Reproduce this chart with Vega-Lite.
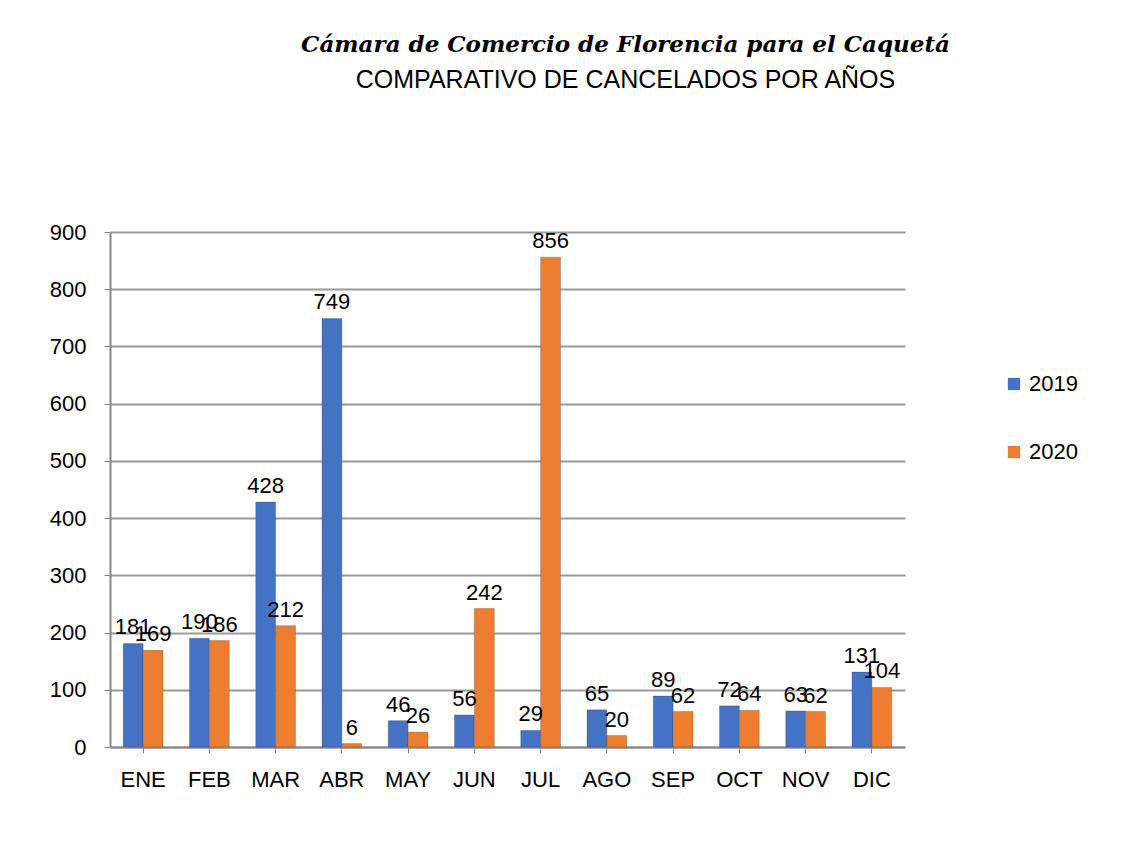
{
  "$schema": "https://vega.github.io/schema/vega-lite/v6.json",
  "autosize": "none",
  "width": 795,
  "height": 515,
  "padding": {"left": 110, "top": 232, "right": 220, "bottom": 94},
  "background": "white",
  "title": {
    "text": "Cámara de Comercio de Florencia para el Caquetá",
    "subtitle": "COMPARATIVO DE CANCELADOS POR AÑOS",
    "anchor": "middle",
    "dx": 118,
    "offset": 128,
    "font": "DejaVu Serif",
    "fontStyle": "italic",
    "fontWeight": "bold",
    "fontSize": 23,
    "color": "black",
    "subtitleFont": "Liberation Sans",
    "subtitleFontSize": 25,
    "subtitleColor": "black",
    "subtitlePadding": 11
  },
  "data": {
    "values": [
      {"mes": "ENE", "anio": "2019", "valor": 181}, {"mes": "ENE", "anio": "2020", "valor": 169},
      {"mes": "FEB", "anio": "2019", "valor": 190}, {"mes": "FEB", "anio": "2020", "valor": 186},
      {"mes": "MAR", "anio": "2019", "valor": 428}, {"mes": "MAR", "anio": "2020", "valor": 212},
      {"mes": "ABR", "anio": "2019", "valor": 749}, {"mes": "ABR", "anio": "2020", "valor": 6},
      {"mes": "MAY", "anio": "2019", "valor": 46}, {"mes": "MAY", "anio": "2020", "valor": 26},
      {"mes": "JUN", "anio": "2019", "valor": 56}, {"mes": "JUN", "anio": "2020", "valor": 242},
      {"mes": "JUL", "anio": "2019", "valor": 29}, {"mes": "JUL", "anio": "2020", "valor": 856},
      {"mes": "AGO", "anio": "2019", "valor": 65}, {"mes": "AGO", "anio": "2020", "valor": 20},
      {"mes": "SEP", "anio": "2019", "valor": 89}, {"mes": "SEP", "anio": "2020", "valor": 62},
      {"mes": "OCT", "anio": "2019", "valor": 72}, {"mes": "OCT", "anio": "2020", "valor": 64},
      {"mes": "NOV", "anio": "2019", "valor": 63}, {"mes": "NOV", "anio": "2020", "valor": 62},
      {"mes": "DIC", "anio": "2019", "valor": 131}, {"mes": "DIC", "anio": "2020", "valor": 104}
    ]
  },
  "encoding": {
    "x": {
      "field": "mes", "type": "nominal", "sort": null,
      "scale": {"paddingInner": 0.4, "paddingOuter": 0.2},
      "axis": {"title": null, "labelAngle": 0, "labelFontSize": 22, "labelFont": "Liberation Sans", "labelColor": "black", "labelPadding": 16, "ticks": true, "tickColor": "#888", "tickSize": 6, "domainColor": "#888", "domainWidth": 2}
    },
    "xOffset": {"field": "anio", "type": "nominal", "scale": {"paddingInner": 0}},
    "y": {
      "field": "valor", "type": "quantitative",
      "scale": {"domain": [0, 900]},
      "axis": {"title": null, "values": [0,100,200,300,400,500,600,700,800,900], "labelFontSize": 22, "labelFont": "Liberation Sans", "labelColor": "black", "labelPadding": 18, "gridColor": "#999", "gridWidth": 2, "domainColor": "#888", "domainWidth": 2, "tickColor": "#888", "tickSize": 6}
    }
  },
  "layer": [
    {
      "mark": {"type": "bar", "stroke": "#333", "strokeOpacity": 0.25, "strokeWidth": 1},
      "encoding": {
        "color": {
          "field": "anio", "type": "nominal",
          "scale": {"domain": ["2019", "2020"], "range": ["#4472C4", "#ED7D31"]},
          "legend": {"title": null, "orient": "none", "legendX": 893, "legendY": 141, "labelFontSize": 22, "labelFont": "Liberation Sans", "labelColor": "black", "symbolType": "square", "symbolSize": 150, "symbolStrokeWidth": 0, "rowPadding": 46}
        }
      }
    },
    {
      "mark": {"type": "text", "dy": -16, "fontSize": 22, "font": "Liberation Sans", "color": "black"},
      "encoding": {"text": {"field": "valor", "type": "quantitative"}}
    }
  ],
  "config": {"view": {"stroke": null}}
}
